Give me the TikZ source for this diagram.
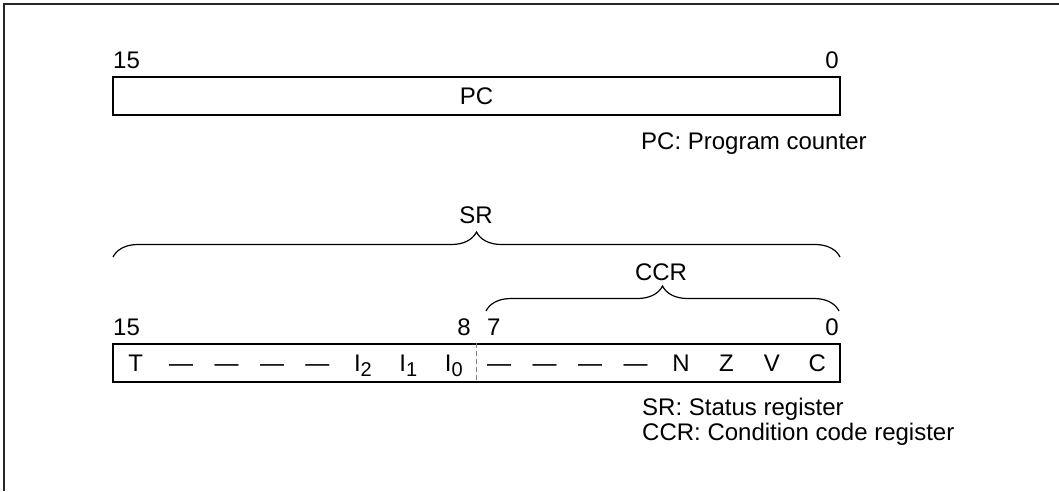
\documentclass[tikz,border=0pt]{standalone}
\usepackage{fontspec}
\setmainfont{Liberation Sans}
\usepackage{tikz}
\usetikzlibrary{positioning,decorations.pathreplacing}
\newcommand{\bitsub}[1]{\raisebox{-4.5pt}{\fontsize{20}{22}\selectfont #1}}

\begin{document}
\begin{tikzpicture}
  [
    x=1pt, y=-1pt,
    every node/.style={font=\fontsize{24}{28}\selectfont, inner sep=0pt},
    Reg/.style={rectangle, draw=black, line width=2pt, minimum width=727pt, minimum height=38pt},
    Bit/.style={anchor=base},
    Note/.style={anchor=base west},
    Brace/.style={decorate, decoration={brace, amplitude=25pt}, line width=1.2pt},
    Split/.style={draw=gray, dash pattern=on 5pt off 3pt, line width=1pt}
  ]
  \useasboundingbox (0,0) rectangle (1059,491);
  \draw[line width=2pt, black!85] (3.5,491) -- (3.5,3.5) -- (1059,3.5);

  % Nodes
  \node[Reg] (pc) at (476.5,96) {PC};
  \node[Bit, anchor=base west] (pc15) at (113,68) {15};
  \node[Bit, anchor=base east] (pc0) at (839,68) {0};
  \node[Note] (pcnote) at (641,149) {PC: Program counter};

  \node[Reg] (sr) at (476.5,362.5) {};
  \node[Bit, anchor=base west] (sr15) at (113,335) {15};
  \node[Bit, anchor=base east] (sr8) at (471,335) {8};
  \node[Bit, anchor=base west] (sr7) at (487,335) {7};
  \node[Bit, anchor=base east] (sr0) at (839,335) {0};

  \foreach \f [count=\i] in {T,—,—,—,—,I\bitsub{2},I\bitsub{1},I\bitsub{0},—,—,—,—,N,Z,V,C}
    \node[Bit] (f\i) at ({113+45.4375*(\i-0.5)},371.5) {\f};

  \node[Bit] (srlabel) at (476,223) {SR};
  \node[Bit] (ccrlabel) at (661,280) {CCR};
  \node[Note] (srnote) at (642,415) {SR: Status register};
  \node[Note] (ccrnote) at (642,440) {CCR: Condition code register};

  \coordinate (srL) at (113,257);
  \coordinate (srR) at (840,257);
  \coordinate (ccrL) at (486,311);
  \coordinate (ccrR) at (839,311);

  % Lines
  \draw[Brace] (srL) -- (srR);
  \draw[Brace] (ccrL) -- (ccrR);
  \path[Split] (sr.north) -- (sr.south);

\end{tikzpicture}
\end{document}
